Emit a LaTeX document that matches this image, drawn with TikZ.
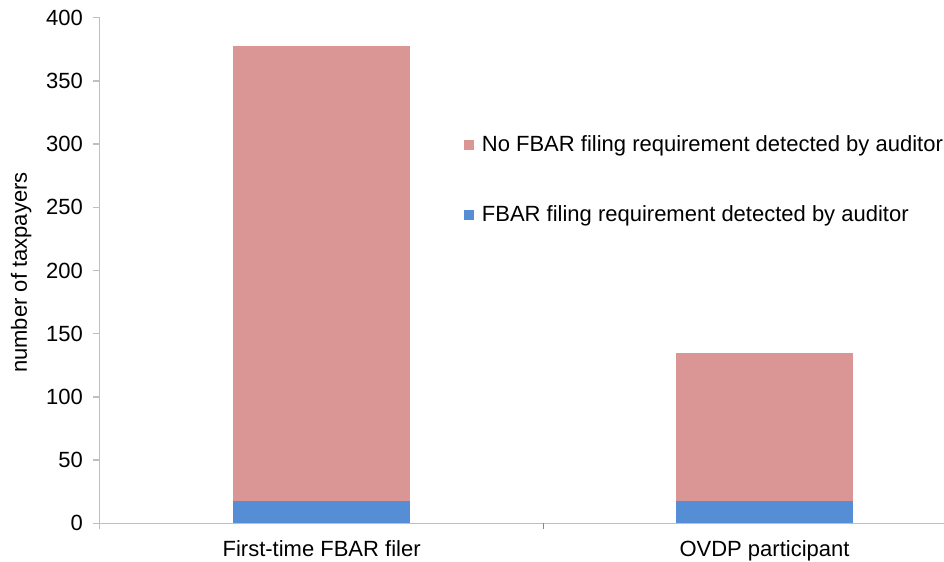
\documentclass[tikz,border=0pt]{standalone}
\usepackage{fontspec}
\setmainfont{Liberation Sans}
\usepackage{tikz}
\usepackage{xcolor}
\definecolor{nofbar}{HTML}{D99694}
\definecolor{fbar}{HTML}{558ED5}
\definecolor{axisgray}{HTML}{BFBFBF}
\definecolor{divgray}{HTML}{868686}

\begin{document}
\begin{tikzpicture}[x=1pt, y=1.264pt, font=\fontsize{22}{26}\selectfont]
    \useasboundingbox (-99.5,-30.6) rectangle (844.5,414);

    \fill[fbar]   (133.8,0)  rectangle (310.5,18);
    \fill[nofbar] (133.8,18) rectangle (310.5,378);
    \fill[fbar]   (576.5,0)  rectangle (753.5,18);
    \fill[nofbar] (576.5,18) rectangle (753.5,135);

    \draw[axisgray, line width=1.4pt] (0,-4.35) -- (0,400);
    \draw[axisgray, line width=1.4pt] (-6.5,0)  -- (844.5,0);
    \draw[axisgray, line width=1.4pt] (-6.5,50)  -- (0,50);
    \draw[axisgray, line width=1.4pt] (-6.5,100) -- (0,100);
    \draw[axisgray, line width=1.4pt] (-6.5,150) -- (0,150);
    \draw[axisgray, line width=1.4pt] (-6.5,200) -- (0,200);
    \draw[axisgray, line width=1.4pt] (-6.5,250) -- (0,250);
    \draw[axisgray, line width=1.4pt] (-6.5,300) -- (0,300);
    \draw[axisgray, line width=1.4pt] (-6.5,350) -- (0,350);
    \draw[axisgray, line width=1.4pt] (-6.5,400) -- (0,400);
    \draw[divgray, line width=1.4pt]  (443.8,0) -- (443.8,-4.35);

    \node[anchor=east, inner sep=0pt] (t0)   at (-16.5,0)   {0};
    \node[anchor=east, inner sep=0pt] (t50)  at (-16.5,50)  {50};
    \node[anchor=east, inner sep=0pt] (t100) at (-16.5,100) {100};
    \node[anchor=east, inner sep=0pt] (t150) at (-16.5,150) {150};
    \node[anchor=east, inner sep=0pt] (t200) at (-16.5,200) {200};
    \node[anchor=east, inner sep=0pt] (t250) at (-16.5,250) {250};
    \node[anchor=east, inner sep=0pt] (t300) at (-16.5,300) {300};
    \node[anchor=east, inner sep=0pt] (t350) at (-16.5,350) {350};
    \node[anchor=east, inner sep=0pt] (t400) at (-16.5,400) {400};

    \node[anchor=base, inner sep=0pt, rotate=90] (ylabel) at (-72.5,198.4) {number of taxpayers};

    \node[anchor=base, inner sep=0pt] (first) at (222.1,-25.9) {First-time FBAR filer};
    \node[anchor=base, inner sep=0pt] (ovdp)  at (665,-25.9)   {OVDP participant};

    \node[fill=nofbar, inner sep=0pt, minimum size=10pt] (keyno)  at (369.5,299.5) {};
    \node[fill=fbar,   inner sep=0pt, minimum size=10pt] (keyyes) at (369.5,244.1) {};
    \node[anchor=base west, inner sep=0pt] (textno)  at (382.2,293.8) {No FBAR filing requirement detected by auditor};
    \node[anchor=base west, inner sep=0pt] (textyes) at (382.2,238.4) {FBAR filing requirement detected by auditor};
\end{tikzpicture}
\end{document}
